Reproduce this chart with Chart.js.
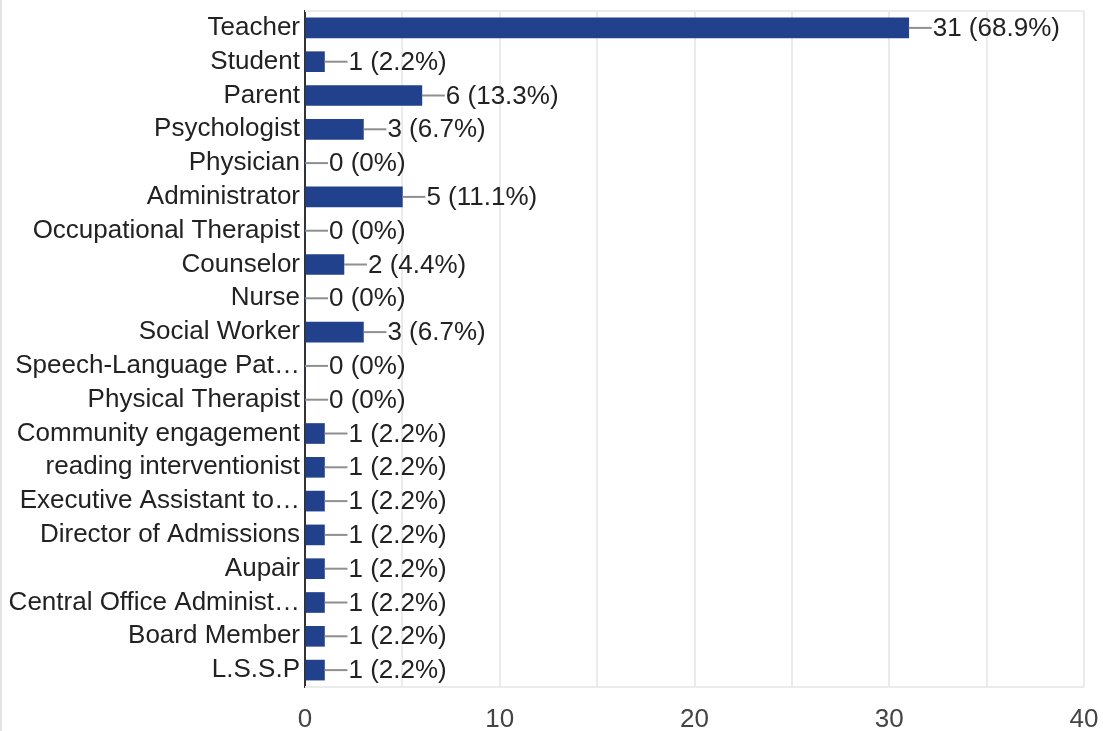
<!DOCTYPE html>
<html>
<head>
<meta charset="utf-8">
<script src="https://cdn.jsdelivr.net/npm/chart.js@4"></script>
<style>
  html, body { margin: 0; padding: 0; background: #fff; }
  #wrap { position: relative; width: 1103px; height: 731px; }
  #edge { position: absolute; left: 0; top: 0; width: 2px; height: 731px; background: #e3e3e3; }
</style>
</head>
<body>
<div id="wrap">
  <canvas id="c" width="1103" height="731"></canvas>
  <div id="edge"></div>
</div>
<script>
const categories = [
  "Teacher", "Student", "Parent", "Psychologist", "Physician", "Administrator",
  "Occupational Therapist", "Counselor", "Nurse", "Social Worker",
  "Speech-Language Pat\u2026", "Physical Therapist", "Community engagement",
  "reading interventionist", "Executive Assistant to\u2026", "Director of Admissions",
  "Aupair", "Central Office Administ\u2026", "Board Member", "L.S.S.P"
];
const counts = [31, 1, 6, 3, 0, 5, 0, 2, 0, 3, 0, 0, 1, 1, 1, 1, 1, 1, 1, 1];
const percents = ["68.9%", "2.2%", "13.3%", "6.7%", "0%", "11.1%", "0%", "4.4%", "0%", "6.7%",
                  "0%", "0%", "2.2%", "2.2%", "2.2%", "2.2%", "2.2%", "2.2%", "2.2%", "2.2%"];
const xTickLabels = ["0", "10", "20", "30", "40"];

const FONT = "'Liberation Sans', Arial, sans-serif";

const valueLabels = {
  id: 'valueLabels',
  afterDatasetsDraw(chart) {
    const ctx = chart.ctx;
    const meta = chart.getDatasetMeta(0);
    ctx.save();
    ctx.font = "26px " + FONT;
    ctx.textBaseline = 'middle';
    ctx.textAlign = 'left';
    meta.data.forEach((bar, i) => {
      const x = bar.x;
      const y = bar.y;
      ctx.strokeStyle = '#8f8f8f';
      ctx.lineWidth = 2;
      ctx.beginPath();
      ctx.moveTo(x, y);
      ctx.lineTo(x + 23, y);
      ctx.stroke();
      ctx.fillStyle = '#222222';
      ctx.fillText(counts[i] + " (" + percents[i] + ")", x + 24, y + 1);
    });
    ctx.restore();
  }
};

const frame = {
  id: 'frame',
  beforeDatasetsDraw(chart) {
    const a = chart.chartArea;
    const ctx = chart.ctx;
    ctx.save();
    ctx.strokeStyle = '#ebebeb';
    ctx.lineWidth = 2;
    ctx.beginPath();
    ctx.moveTo(a.left, a.top);
    ctx.lineTo(a.right, a.top);
    ctx.moveTo(a.left, a.bottom);
    ctx.lineTo(a.right, a.bottom);
    ctx.stroke();
    ctx.restore();
  }
};

new Chart(document.getElementById('c'), {
  type: 'bar',
  data: {
    labels: categories,
    datasets: [{
      data: counts,
      backgroundColor: '#21418c',
      borderWidth: 0,
      barThickness: 20
    }]
  },
  options: {
    indexAxis: 'y',
    responsive: false,
    animation: false,
    layout: { padding: { top: 11, right: 19, bottom: 0, left: 0 } },
    plugins: { legend: { display: false }, tooltip: { enabled: false } },
    scales: {
      x: {
        min: 0, max: 40,
        ticks: {
          stepSize: 5,
          autoSkip: false,
          maxRotation: 0,
          padding: 17,
          color: '#444444',
          font: { family: FONT, size: 26 },
          callback: (v) => (v % 10 === 0 ? xTickLabels[v / 10] : '')
        },
        grid: { color: '#ebebeb', lineWidth: 2, drawTicks: false },
        border: { display: false },
        afterFit(s) { s.height = 44; s.paddingLeft = 0; s.paddingRight = 0; }
      },
      y: {
        ticks: {
          autoSkip: false,
          padding: 5,
          color: '#222222',
          font: { family: FONT, size: 26 }
        },
        grid: { display: false, drawTicks: false },
        border: { display: true, color: '#333333', width: 2 },
        afterFit(s) { s.width = 305; s.paddingTop = 0; s.paddingBottom = 0; }
      }
    }
  },
  plugins: [frame, valueLabels]
});
</script>
</body>
</html>
